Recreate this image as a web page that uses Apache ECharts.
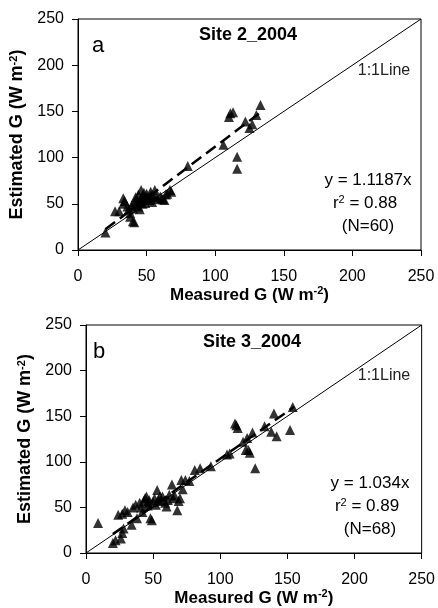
<!DOCTYPE html>
<html>
<head>
<meta charset="utf-8">
<script src="https://cdn.jsdelivr.net/npm/echarts@6/dist/echarts.min.js"></script>
<style>
  html, body { margin: 0; padding: 0; background: #fff; }
  #main { width: 438px; height: 608px; }
</style>
</head>
<body>
<div id="main"></div>
<script>
// axis ticks
var axisMin = 0, axisMax = 250, axisStep = 50;

// panel a: Site 2_2004 (measured, estimated)
var site2Points = [
  [20, 19], [27, 42], [30, 42], [33, 56], [33, 50], [34, 53], [36, 47], [37, 44], [38, 40], [38, 36],
  [40, 31], [41, 30], [39, 48], [40, 45], [41, 52], [42, 57], [42, 49], [43, 54], [44, 47], [44, 60],
  [45, 52], [45, 44], [46, 65], [46, 56], [47, 58], [47, 50], [48, 62], [48, 54], [49, 51], [50, 61],
  [50, 57], [51, 55], [52, 54], [53, 59], [53, 63], [54, 52], [55, 57], [56, 65], [57, 57], [58, 55],
  [60, 58], [61, 56], [62, 55], [63, 54], [64, 60], [65, 61], [80, 91], [67, 65], [68, 63], [106, 114],
  [110, 144], [111, 148], [113, 149], [116, 101], [116, 88], [122, 139], [125, 132], [127, 136], [130, 146], [133, 157]
];
var site2Fit = [[20, 22.4], [133, 148.8]];

// panel b: Site 3_2004
var site3Points = [
  [9, 33], [20, 11], [22, 14], [26, 16], [27, 22], [28, 27], [24, 42], [27, 43], [29, 47], [31, 45],
  [34, 31], [35, 50], [37, 53], [38, 38], [40, 55], [41, 50], [42, 45], [43, 57], [44, 60], [45, 62],
  [46, 55], [46, 52], [47, 58], [48, 38], [49, 36], [50, 56], [51, 60], [52, 53], [53, 69], [54, 58],
  [55, 62], [56, 57], [57, 62], [59, 55], [60, 51], [61, 58], [62, 64], [64, 75], [65, 60], [66, 63],
  [68, 47], [69, 57], [70, 60], [71, 80], [72, 70], [74, 80], [77, 79], [81, 91], [85, 93], [93, 95],
  [105, 108], [107, 109], [111, 142], [112, 140], [113, 137], [117, 122], [119, 113], [121, 113], [122, 110], [120, 126],
  [124, 132], [126, 93], [133, 139], [138, 133], [140, 153], [142, 128], [152, 135], [154, 160]
];
var site3Fit = [[20, 20.7], [155, 160.3]];

var oneToOne = [[0, 0], [250, 250]];

var panelTitles = ['Site 2_2004', 'Site 3_2004'];
var panelLetters = ['a', 'b'];
var fitTexts = [
  ['y = 1.1187x', '0.88', '(N=60)'],
  ['y = 1.034x', '0.89', '(N=68)']
];

var myChart = echarts.init(document.getElementById('main'));
var FONT = '"Liberation Sans", Arial, sans-serif';

function unitsRich(size) {
  return {
    b: { fontFamily: FONT, fontWeight: 'bold', fontSize: size, color: '#000' },
    sup: { fontFamily: FONT, fontWeight: 'bold', fontSize: Math.round(size * 0.62), color: '#000', verticalAlign: 'top', padding: [0, 0, 7, 0] }
  };
}

function makeX(gridIndex) {
  return {
    type: 'value', gridIndex: gridIndex,
    min: axisMin, max: axisMax, interval: axisStep,
    name: '{b|Measured G (W m}{sup|-2}{b|)}',
    nameLocation: 'middle', nameGap: 35,
    nameTextStyle: { rich: unitsRich(17) },
    axisLine: { show: true, lineStyle: { color: '#000', width: 1 } },
    axisTick: { show: true, length: 6, lineStyle: { color: '#000' } },
    axisLabel: { color: '#000', fontSize: 16, fontFamily: FONT, margin: 19 },
    splitLine: { show: false }
  };
}
function makeY(gridIndex, gap) {
  return {
    type: 'value', gridIndex: gridIndex,
    min: axisMin, max: axisMax, interval: axisStep,
    name: '{b|Estimated G (W m}{sup|-2}{b|)}',
    nameLocation: 'middle', nameGap: gap, nameRotate: 90,
    nameTextStyle: { rich: unitsRich(18) },
    axisLine: { show: true, lineStyle: { color: '#000', width: 1 } },
    axisTick: { show: true, length: 6, lineStyle: { color: '#000' } },
    axisLabel: { color: '#000', fontSize: 16, fontFamily: FONT, margin: 14 },
    splitLine: { show: false }
  };
}

function panelSeries(idx, pts, fit) {
  return [
    {
      type: 'line', xAxisIndex: idx, yAxisIndex: idx, data: oneToOne,
      symbol: 'none', silent: true, z: 1,
      lineStyle: { color: '#000', width: 1 }
    },
    {
      type: 'scatter', xAxisIndex: idx, yAxisIndex: idx, data: pts,
      symbol: 'triangle', symbolSize: [10, 10], z: 2,
      itemStyle: { color: '#000' }
    },
    {
      type: 'line', xAxisIndex: idx, yAxisIndex: idx, data: fit,
      symbol: 'none', silent: true, z: 3,
      lineStyle: { color: '#000', width: 2.5, type: [12, 6] }
    }
  ];
}

function txt(x, y, str, opts) {
  return {
    type: 'text', x: x, y: y,
    style: Object.assign({
      text: str, fill: '#000', font: '17px ' + FONT,
      textAlign: 'center', textVerticalAlign: 'middle'
    }, opts || {})
  };
}

function panelText(i, top) {
  var ft = fitTexts[i];
  var g = [];
  var lx = i === 0 ? 98 : 99;
  var tx = i === 0 ? 248 : 252;
  var ex = i === 0 ? 368 : 370;
  g.push(txt(lx, top.letter, panelLetters[i], { font: '22px ' + FONT }));
  g.push(txt(tx, top.title, panelTitles[i], { font: 'bold 18px ' + FONT }));
  g.push(txt(384, top.line, '1:1Line', { font: '16px ' + FONT, fill: '#222' }));
  g.push(txt(ex, top.eq, ft[0]));
  g.push({
    type: 'text', x: ex - 3, y: top.eq + 23,
    style: {
      text: '{r|r}{s|2}{r| = ' + ft[1] + '}',
      textAlign: 'center', textVerticalAlign: 'middle',
      rich: {
        r: { fontSize: 17, fontFamily: FONT, fill: '#000' },
        s: { fontSize: 11, fontFamily: FONT, fill: '#000', verticalAlign: 'top', padding: [0, 0, 7, 0] }
      }
    }
  });
  g.push(txt(ex, top.eq + 46, ft[2]));
  return g;
}

var option = {
  backgroundColor: '#fff',
  animation: false,
  grid: [
    { left: 78, right: 17, top: 19, bottom: 358, show: true, borderColor: '#000', borderWidth: 1 },
    { left: 86, right: 12, top: 325, bottom: 55, show: true, borderColor: '#000', borderWidth: 1 }
  ],
  xAxis: [makeX(0), makeX(1)],
  yAxis: [makeY(0, 46), makeY(1, 44)],
  series: panelSeries(0, site2Points, site2Fit).concat(panelSeries(1, site3Points, site3Fit)),
  graphic: panelText(0, { letter: 46, title: 35, line: 71, eq: 180 })
    .concat(panelText(1, { letter: 352, title: 342, line: 376, eq: 483 }))
};

myChart.setOption(option);
</script>
</body>
</html>
